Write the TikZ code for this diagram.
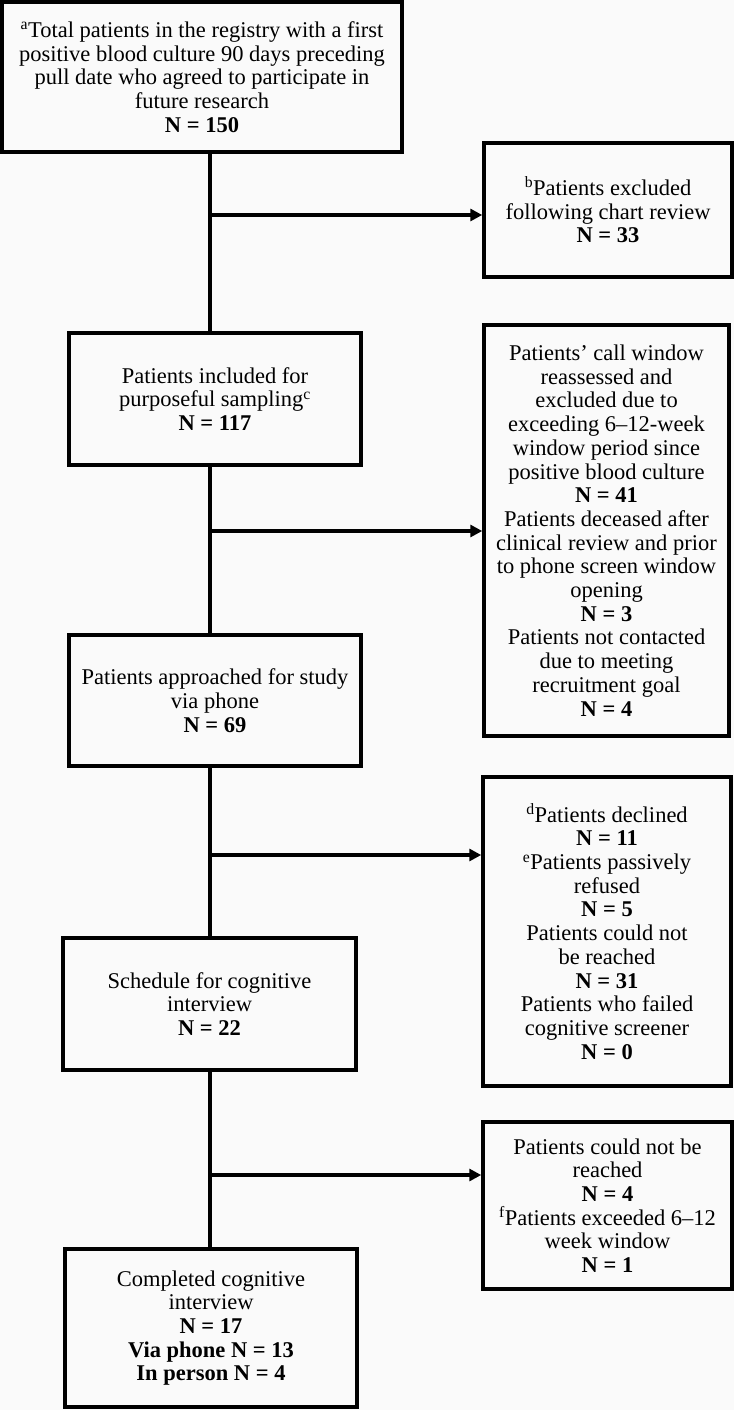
\documentclass[tikz,border=0pt]{standalone}
\usepackage{fontspec}
\setmainfont{Liberation Serif}
\usetikzlibrary{arrows.meta}
\begin{document}
\begin{tikzpicture}[x=1pt,y=-1pt,
  box/.style={draw=black, line width=3.5pt, rectangle, align=center, inner sep=1pt,
    font=\fontsize{22.5}{23.7}\selectfont, fill=white!98!black},
  link/.style={line width=3.5pt, line cap=butt},
  arr/.style={line width=3.5pt, -{Triangle[length=12pt,width=12pt]}}]
\fill[white!98!black] (0,0) rectangle (734,1410);
\useasboundingbox (0,0) rectangle (734,1410);

\node[box, minimum width=400pt, minimum height=150pt] (b1) at (202,77)
  {\textsuperscript{a}Total patients in the registry with a first\\
   positive blood culture 90 days preceding\\
   pull date who agreed to participate in\\
   future research\\ \textbf{N = 150}};
\node[box, minimum width=248pt, minimum height=134pt] (bb) at (608,210)
  {\textsuperscript{b}Patients excluded\\ following chart review\\ \textbf{N = 33}};
\node[box, minimum width=292pt, minimum height=132pt] (b2) at (215,399)
  {Patients included for\\ purposeful sampling\textsuperscript{c}\\ \textbf{N = 117}};
\node[box, minimum width=245pt, minimum height=411pt] (bc) at (606.5,530.5)
  {Patients’ call window\\ reassessed and\\ excluded due to\\ exceeding 6--12-week\\
   window period since\\ positive blood culture\\ \textbf{N = 41}\\
   Patients deceased after\\ clinical review and prior\\ to phone screen window\\
   opening\\ \textbf{N = 3}\\ Patients not contacted\\ due to meeting\\
   recruitment goal\\ \textbf{N = 4}};
\node[box, minimum width=292pt, minimum height=131pt] (b3) at (215,700.5)
  {Patients approached for study\\ via phone\\ \textbf{N = 69}};
\node[box, minimum width=248pt, minimum height=309pt] (bd) at (607,931.5)
  {\textsuperscript{d}Patients declined\\ \textbf{N = 11}\\
   \textsuperscript{e}Patients passively\\ refused\\ \textbf{N = 5}\\
   Patients could not\\ be reached\\ \textbf{N = 31}\\
   Patients who failed\\ cognitive screener\\ \textbf{N = 0}};
\node[box, minimum width=293pt, minimum height=132pt] (b4) at (209.5,1004)
  {Schedule for cognitive\\ interview\\ \textbf{N = 22}};
\node[box, minimum width=249pt, minimum height=167pt] (bf) at (607.5,1205.5)
  {Patients could not be\\ reached\\ \textbf{N = 4}\\
   \textsuperscript{f}Patients exceeded 6--12\\ week window\\ \textbf{N = 1}};
\node[box, minimum width=292pt, minimum height=158pt] (b5) at (211,1328)
  {Completed cognitive\\ interview\\ \textbf{N = 17}\\
   \textbf{Via phone N = 13}\\ \textbf{In person N = 4}};

\coordinate (t) at (210,0);
\coordinate (j1) at (210,215);
\coordinate (j2) at (210,531);
\coordinate (j3) at (210,855);
\coordinate (j4) at (210,1175);

\draw[link] (b1.south -| t) -- (b2.north -| t);
\draw[link] (b2.south -| t) -- (b3.north -| t);
\draw[link] (b3.south -| t) -- (b4.north -| t);
\draw[link] (b4.south -| t) -- (b5.north -| t);

\draw[arr] (j1) -- (j1 -| bb.west);
\draw[arr] (j2) -- (j2 -| bc.west);
\draw[arr] (j3) -- (j3 -| bd.west);
\draw[arr] (j4) -- (j4 -| bf.west);
\end{tikzpicture}
\end{document}
